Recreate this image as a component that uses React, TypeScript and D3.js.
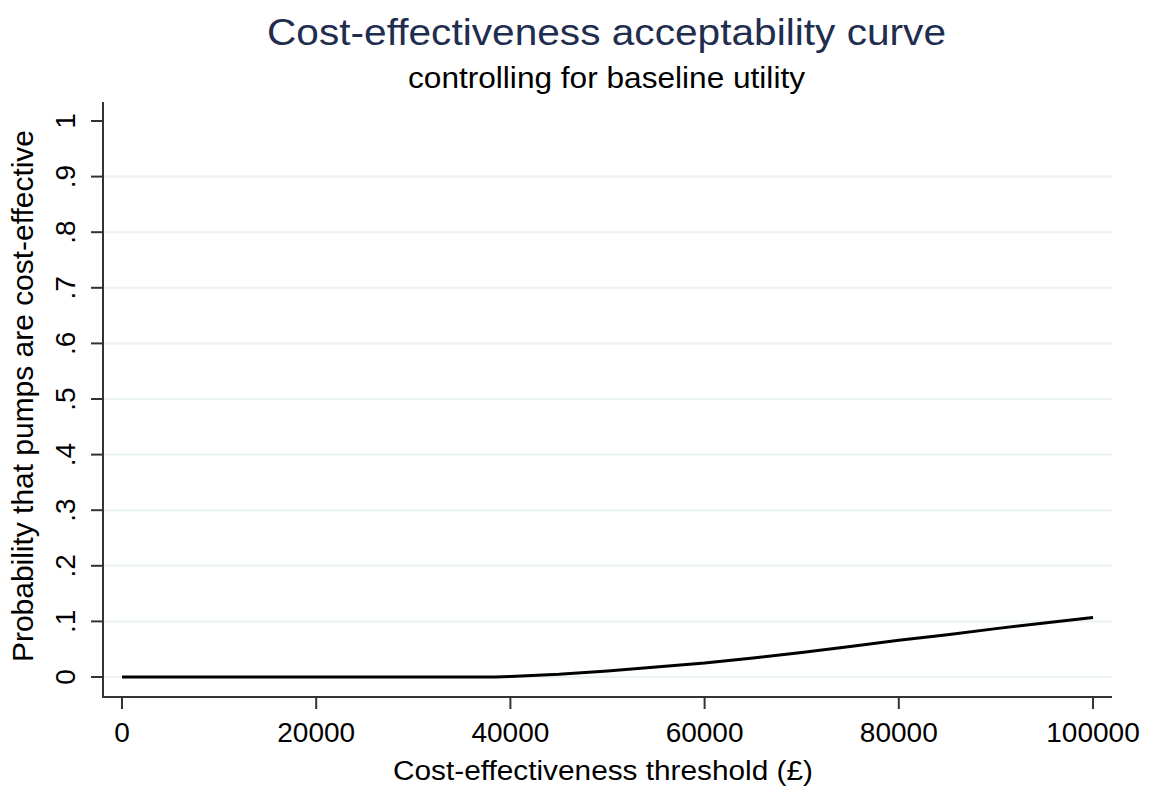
import React from "react";
import * as d3 from "d3";

// cost-effectiveness threshold (GBP) and probability pumps are cost-effective
const thresholds = [0, 5000, 10000, 15000, 20000, 25000, 30000, 35000, 38500, 40000, 45000, 50000, 55000, 60000, 65000, 70000, 75000, 80000, 85000, 90000, 95000, 100000];
const probability = [0, 0, 0, 0, 0, 0, 0, 0, 0, 0.001, 0.005, 0.011, 0.018, 0.025, 0.034, 0.044, 0.055, 0.066, 0.076, 0.087, 0.097, 0.107];

const xTicks = [0, 20000, 40000, 60000, 80000, 100000];
const yTicks = [0, 0.1, 0.2, 0.3, 0.4, 0.5, 0.6, 0.7, 0.8, 0.9, 1];
const yTickLabels = ["0", ".1", ".2", ".3", ".4", ".5", ".6", ".7", ".8", ".9", "1"];

const W = 1153, H = 789;
const font = "Arial, 'Liberation Sans', sans-serif";

export default function App() {
  const left = 103, right = 1112, top = 102, bottom = 697;
  const x = d3.scaleLinear().domain([0, 100000]).range([122, 1093]);
  const y = d3.scaleLinear().domain([0, 1]).range([677, 121]);

  const pts = thresholds.map((t, i) => [t, probability[i]] as [number, number]);
  const line = d3.line<[number, number]>()
    .x(d => x(d[0]))
    .y(d => y(d[1]));

  return (
    <svg width={W} height={H} style={{ position: "absolute", left: 0, top: 0, background: "#fff" }} fontFamily={font}>
      <rect x={0} y={0} width={W} height={H} fill="#fff" />
      {/* title */}
      <text x={267} y={45} fontSize={37} fill="#1f2d4f" textLength={679} lengthAdjust="spacingAndGlyphs">Cost-effectiveness acceptability curve</text>
      <text x={408} y={88} fontSize={30} fill="#000" textLength={397} lengthAdjust="spacingAndGlyphs">controlling for baseline utility</text>

      {/* grid */}
      {yTicks.filter(t => t < 1).map(t => (
        <line key={"g" + t} x1={left + 1} x2={right} y1={y(t)} y2={y(t)} stroke="#eaf2f3" strokeWidth={2} />
      ))}

      {/* curve */}
      <path d={line(pts) || ""} fill="none" stroke="#000" strokeWidth={3} />

      {/* axes */}
      <line x1={left} x2={left} y1={top} y2={bottom + 1} stroke="#333" strokeWidth={2} />
      <line x1={left} x2={right} y1={bottom} y2={bottom} stroke="#333" strokeWidth={2} />

      {yTicks.map((t, i) => (
        <g key={"y" + t}>
          <line x1={91} x2={left} y1={y(t)} y2={y(t)} stroke="#333" strokeWidth={2} />
          <text transform={`translate(75,${y(t)}) rotate(-90)`} textAnchor="middle" fontSize={28} fill="#000">{yTickLabels[i]}</text>
        </g>
      ))}
      {xTicks.map(t => (
        <g key={"x" + t}>
          <line x1={x(t)} x2={x(t)} y1={bottom} y2={709} stroke="#333" strokeWidth={2} />
          <text x={x(t)} y={742} textAnchor="middle" fontSize={28} fill="#000">{t}</text>
        </g>
      ))}

      {/* axis titles */}
      <text x={393} y={780} fontSize={27} fill="#000" textLength={420} lengthAdjust="spacingAndGlyphs">Cost-effectiveness threshold (£)</text>
      <text transform={`translate(33,662) rotate(-90)`} fontSize={29} fill="#000" textLength={532} lengthAdjust="spacingAndGlyphs">Probability that pumps are cost-effective</text>
    </svg>
  );
}
